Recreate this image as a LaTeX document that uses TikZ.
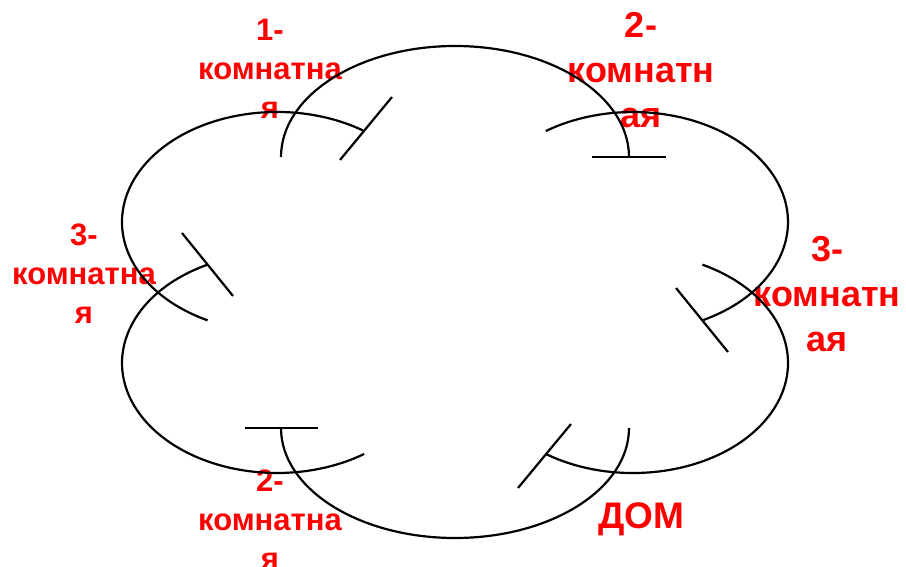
\documentclass[tikz,border=0pt]{standalone}
\usepackage{fontspec}
\setmainfont{Liberation Sans}
\begin{document}
\begin{tikzpicture}[x=1pt,y=-1pt,
  arcline/.style={draw=black, line width=2.2pt},
  tickline/.style={draw=black, line width=2.2pt},
  lbl/.style={text=red, align=center, inner sep=0pt, anchor=base},
  lblS/.style={lbl, font=\fontsize{31}{39}\selectfont\bfseries},
  lblL/.style={lbl, font=\fontsize{36}{45}\selectfont\bfseries},
  lblD/.style={lbl, font=\fontsize{37}{44}\selectfont\bfseries}]
\useasboundingbox (0,0) rectangle (906,567);
% labels (anchor base = baseline of the last line)
\node[lblS] (l1) at (270,118.3) {1-\\комнатна\\я};
\node[lblL] (l2) at (641,127.5) {2-\\комнатн\\ая};
\node[lblS] (l3) at (84,323) {3-\\комнатна\\я};
\node[lblL] (l4) at (827,351) {3-\\комнатн\\ая};
\node[lblS] (l5) at (270,569) {2-\\комнатна\\я};
\node[lblD] (l6) at (641,528) {ДОМ};
% arcs
\draw[arcline] (281,157) arc[start angle=180, end angle=360, x radius=174, y radius=111];
\draw[arcline] (281,428) arc[start angle=180, end angle=0, x radius=174, y radius=110];
\draw[arcline] (364.1,131.0) arc[start angle=-55.8, end angle=-243.4, x radius=155, y radius=110];
\draw[arcline] (206.9,264.9) arc[start angle=-116.9, end angle=-304.2, x radius=155, y radius=110];
\draw[arcline] (545.9,454.0) arc[start angle=124.2, end angle=-63.4, x radius=155, y radius=110];
\draw[arcline] (703.1,320.1) arc[start angle=63.1, end angle=-124.2, x radius=155, y radius=110];
% ticks
\coordinate (t1a) at (592,157); \coordinate (t1b) at (666,157);
\coordinate (t2a) at (245,428); \coordinate (t2b) at (318,428);
\coordinate (t3a) at (340,160); \coordinate (t3b) at (392,97);
\coordinate (t4a) at (182,233); \coordinate (t4b) at (233,296);
\coordinate (t5a) at (518,488); \coordinate (t5b) at (571,424);
\coordinate (t6a) at (676,288); \coordinate (t6b) at (728,352);
\draw[tickline] (t1a) -- (t1b);
\draw[tickline] (t2a) -- (t2b);
\draw[tickline] (t3a) -- (t3b);
\draw[tickline] (t4a) -- (t4b);
\draw[tickline] (t5a) -- (t5b);
\draw[tickline] (t6a) -- (t6b);
\end{tikzpicture}
\end{document}
